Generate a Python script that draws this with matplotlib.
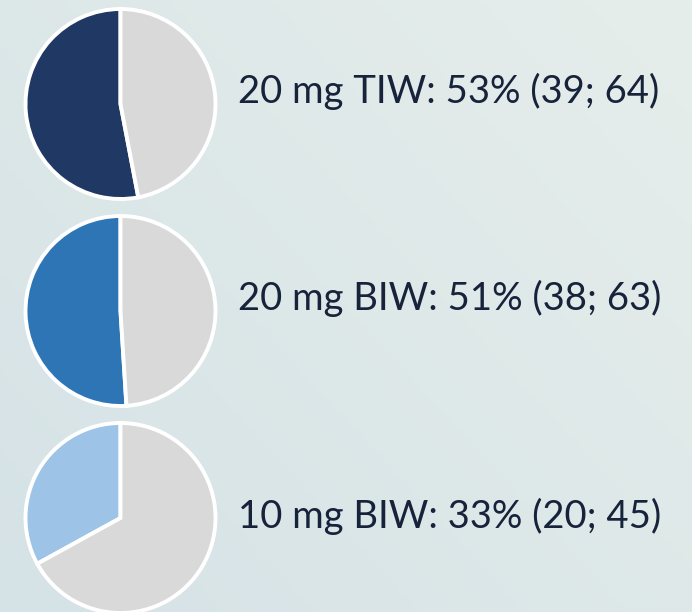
import matplotlib
matplotlib.use('Agg')
import matplotlib.pyplot as plt
import numpy as np

# 各組劑量與反應率
labels = ['20 mg TIW', '20 mg BIW', '10 mg BIW']
rates = [53, 51, 33]
ci_low = [39, 38, 20]
ci_high = [64, 63, 45]
colors = ['#1F3864', '#2E75B6', '#9DC3E6']
rest_color = '#D9D9D9'

W, H = 692, 612
fig = plt.figure(figsize=(W / 100, H / 100), dpi=100)
ax = fig.add_axes([0, 0, 1, 1])

# 背景漸層（左上偏藍灰，右下偏淺）
gx, gy = np.meshgrid(np.linspace(0, 1, 200), np.linspace(0, 1, 200))
t = np.clip(0.55 * gx + 0.45 * gy, 0, 1)
c0 = np.array([213, 226, 230]) / 255
c1 = np.array([230, 238, 235]) / 255
bg = c0[None, None, :] * (1 - t[..., None]) + c1[None, None, :] * t[..., None]
ax.imshow(bg, extent=[0, W, H, 0], origin='upper', zorder=0, aspect='auto')

pie_x = 120.5
pie_y = [104, 311, 518]
pie_r = 95
text_y = [91, 298, 516]

for i in range(len(labels)):
    ax.pie([rates[i], 100 - rates[i]], colors=[colors[i], rest_color],
           startangle=90, counterclock=True,
           center=(pie_x, H - pie_y[i]), radius=pie_r, frame=True,
           wedgeprops=dict(edgecolor='white', linewidth=2.8))
    ax.text(238, H - text_y[i],
            f'{labels[i]}: {rates[i]}% ({ci_low[i]}; {ci_high[i]})',
            fontsize=27.5, color='#17223B', family='Lato',
            ha='left', va='center', zorder=5)

ax.set_xlim(0, W)
ax.set_ylim(0, H)
ax.set_aspect('auto')
ax.axis('off')

fig.savefig('out.png', dpi=100)
